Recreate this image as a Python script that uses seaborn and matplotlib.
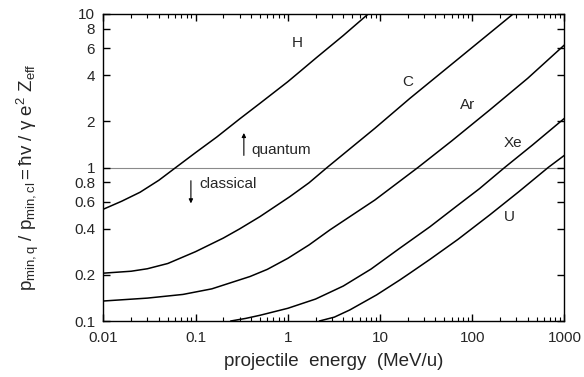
import numpy as np
import pandas as pd
import matplotlib
matplotlib.use("Agg")
import matplotlib.pyplot as plt
import seaborn as sns
from matplotlib.ticker import FixedLocator, NullFormatter, LogLocator

# curves (energy in MeV/u, ratio)
h_energy = [0.01, 0.0158, 0.025, 0.04, 0.061, 0.1, 0.17, 0.3, 0.5, 1.0, 1.35, 2.05, 4.0, 7.45]
h_ratio = [0.535, 0.603, 0.69, 0.826, 1.0, 1.25, 1.58, 2.07, 2.62, 3.62, 4.21, 5.2, 7.24, 10.0]

c_energy = [0.01, 0.02, 0.03, 0.05, 0.1, 0.2, 0.3, 0.5, 1.05, 1.7, 2.67, 8.8, 21.1, 67.8, 278]
c_ratio = [0.205, 0.211, 0.219, 0.237, 0.283, 0.347, 0.398, 0.479, 0.645, 0.795, 1.0, 1.8, 2.82, 5.0, 10.0]

ar_energy = [0.01, 0.03, 0.073, 0.15, 0.39, 0.6, 1.0, 1.7, 2.86, 5.0, 8.8, 25.8, 60, 155, 400, 1000]
ar_ratio = [0.135, 0.141, 0.149, 0.162, 0.195, 0.217, 0.256, 0.313, 0.392, 0.49, 0.614, 1.0, 1.49, 2.37, 3.81, 6.28]

xe_energy = [0.24, 0.35, 0.5, 1.0, 2.0, 4.0, 8.0, 16.4, 34.8, 67.8, 120, 225, 450, 1000]
xe_ratio = [0.1, 0.104, 0.109, 0.121, 0.139, 0.169, 0.218, 0.298, 0.411, 0.56, 0.728, 1.0, 1.4, 2.09]

u_energy = [2.2, 3.2, 4.7, 9.2, 16.4, 21.1, 34.8, 70, 155, 320, 667, 1000]
u_ratio = [0.1, 0.106, 0.118, 0.148, 0.185, 0.205, 0.252, 0.34, 0.491, 0.695, 1.0, 1.2]

ions = ["H", "C", "Ar", "Xe", "U"]
label_pos = {"H": (1.26, 6.47), "C": (20.1, 3.6), "Ar": (89.7, 2.55),
             "Xe": (276, 1.445), "U": (256, 0.476)}

y_ticks = [0.1, 0.2, 0.4, 0.6, 0.8, 1, 2, 4, 6, 8, 10]
y_ticklabels = ["0.1", "0.2", "0.4", "0.6", "0.8", "1", "2", "4", "6", "8", "10"]
x_ticks = [0.01, 0.1, 1, 10, 100, 1000]
x_ticklabels = ["0.01", "0.1", "1", "10", "100", "1000"]

frames = []
for name, e, r in zip(ions,
                      [h_energy, c_energy, ar_energy, xe_energy, u_energy],
                      [h_ratio, c_ratio, ar_ratio, xe_ratio, u_ratio]):
    frames.append(pd.DataFrame({"energy": e, "ratio": r, "ion": name}))
df = pd.concat(frames, ignore_index=True)

sns.set_style("ticks")
plt.rcParams["font.family"] = ["Liberation Sans", "DejaVu Sans"]
plt.rcParams["mathtext.fontset"] = "custom"
plt.rcParams["mathtext.rm"] = "Liberation Sans"
plt.rcParams["mathtext.it"] = "Liberation Sans"

fig = plt.figure(figsize=(5.84, 3.77), dpi=100)
ax = fig.add_axes([0.177, 0.1485, 0.7894, 0.8144])

sns.lineplot(data=df, x="energy", y="ratio", hue="ion", units="ion",
             estimator=None, palette=["black"] * 5, legend=False,
             linewidth=1.1, ax=ax)
ax.axhline(1.0, color="#8a8a8a", linewidth=0.8, zorder=0)

ax.set_xscale("log")
ax.set_yscale("log")
ax.set_xlim(0.01, 1000)
ax.set_ylim(0.1, 10)

ax.xaxis.set_major_locator(FixedLocator(x_ticks))
ax.set_xticklabels(x_ticklabels)
ax.xaxis.set_minor_locator(LogLocator(base=10, subs=np.arange(2, 10)))
ax.xaxis.set_minor_formatter(NullFormatter())
ax.yaxis.set_major_locator(FixedLocator(y_ticks))
ax.set_yticklabels(y_ticklabels)
ax.yaxis.set_minor_locator(FixedLocator([]))

ax.tick_params(which="both", direction="in", top=True, right=True,
               labelsize=11, color="black")
ax.tick_params(which="major", length=5, width=1)
ax.tick_params(which="minor", length=3, width=0.8)
ax.tick_params(axis="x", which="major", pad=7)
ax.tick_params(axis="y", which="major", pad=6)
for s in ax.spines.values():
    s.set_linewidth(1.0)
    s.set_color("black")

for name in ions:
    ax.text(*label_pos[name], name, fontsize=11, ha="center", va="center")

ax.annotate("", xy=(0.334, 1.75), xytext=(0.334, 1.15),
            arrowprops=dict(arrowstyle="-|>", color="black", lw=0.8,
                            mutation_scale=6))
ax.text(0.408, 1.3, "quantum", fontsize=11, ha="left", va="center")
ax.annotate("", xy=(0.089, 0.56), xytext=(0.089, 0.855),
            arrowprops=dict(arrowstyle="-|>", color="black", lw=0.8,
                            mutation_scale=6))
ax.text(0.111, 0.78, "classical", fontsize=11, ha="left", va="center")

ax.set_xlabel("projectile  energy  (MeV/u)", fontsize=13.5, labelpad=6)
ax.set_ylabel(r"$\mathrm{p_{min,q}\ /\ p_{min,cl} = }$ħ$\mathrm{v\ /\ }$γ$\mathrm{\ e^2\ Z_{eff}}$",
              fontsize=13.5)
ax.yaxis.set_label_coords(-0.135, 0.47)

fig.savefig("out.png", dpi=100)
